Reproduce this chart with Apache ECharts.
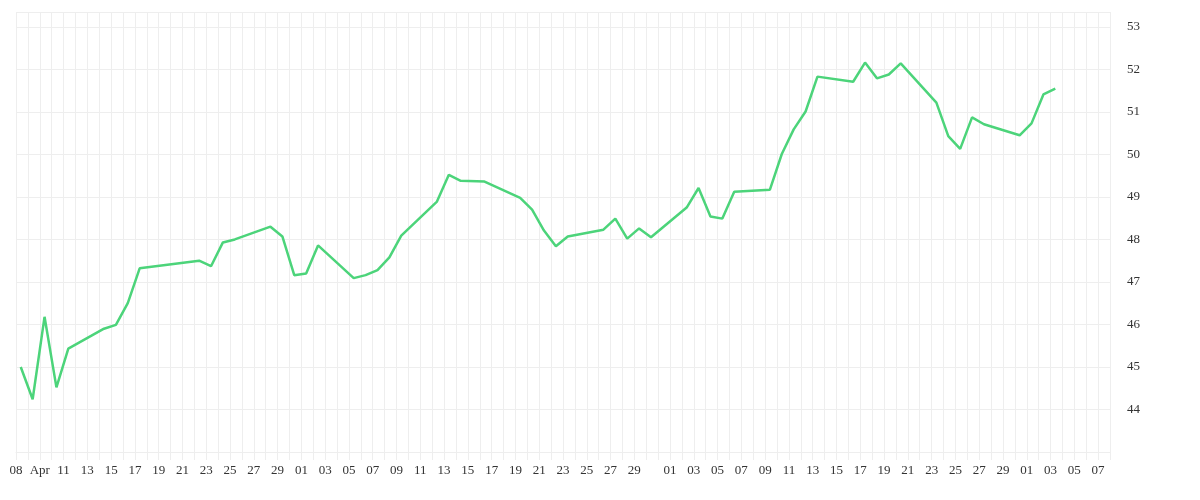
<!DOCTYPE html>
<html><head><meta charset="utf-8">
<script src="https://cdn.jsdelivr.net/npm/echarts@6/dist/echarts.min.js"></script>
<style>html,body{margin:0;padding:0;background:#fff}#c{width:1200px;height:500px}</style>
</head><body><div id="c"></div>
<script>
const dates = ["04-07","04-08","04-09","04-10","04-11","04-14","04-15","04-16","04-17","04-22","04-23","04-24","04-25","04-28","04-29","04-30","05-01","05-02","05-05","05-06","05-07","05-08","05-09","05-12","05-13","05-14","05-16","05-19","05-20","05-21","05-22","05-23","05-26","05-27","05-28","05-29","05-30","06-02","06-03","06-04","06-05","06-06","06-09","06-10","06-11","06-12","06-13","06-16","06-17","06-18","06-19","06-20","06-23","06-24","06-25","06-26","06-27","06-30","07-01","07-02","07-03"];
const values = [45.0,44.24,46.18,44.52,45.43,45.9,45.99,46.5,47.32,47.5,47.37,47.93,48.0,48.3,48.07,47.16,47.2,47.86,47.09,47.16,47.28,47.58,48.09,48.89,49.52,49.38,49.36,48.98,48.7,48.21,47.84,48.07,48.23,48.49,48.02,48.26,48.05,48.75,49.21,48.54,48.49,49.12,49.17,50.01,50.59,51.01,51.83,51.71,52.16,51.79,51.88,52.14,51.22,50.43,50.13,50.87,50.71,50.45,50.73,51.41,51.55];
const tickDates = ["04-07","04-09","04-11","04-13","04-15","04-17","04-19","04-21","04-23","04-25","04-27","04-29","05-01","05-03","05-05","05-07","05-09","05-11","05-13","05-15","05-17","05-19","05-21","05-23","05-25","05-27","05-29","06-01","06-03","06-05","06-07","06-09","06-11","06-13","06-15","06-17","06-19","06-21","06-23","06-25","06-27","06-29","07-01","07-03","07-05","07-07"];
const tickLabels = ["08","Apr","11","13","15","17","19","21","23","25","27","29","01","03","05","07","09","11","13","15","17","19","21","23","25","27","29","01","03","05","07","09","11","13","15","17","19","21","23","25","27","29","01","03","05","07"];
const yTicks = [44,45,46,47,48,49,50,51,52,53];
const timeOfDay = 0.4;
const base = Date.UTC(2024,3,7);
const dayOf = s => { const [m,d] = s.split('-').map(Number); return Math.round((Date.UTC(2024,m-1,d)-base)/86400000); };
const labelMap = {};
tickDates.forEach((s,i)=>{ labelMap[dayOf(s)] = tickLabels[i]; });
const data = dates.map((s,i)=>[dayOf(s)+timeOfDay, values[i]]);
const chart = echarts.init(document.getElementById('c'));
chart.setOption({
  animation:false,
  grid:{left:16,right:90,top:12,bottom:48,containLabel:false},
  xAxis:{type:'value',min:0,max:92,interval:1,
    axisLine:{show:true,lineStyle:{color:'#eee'}},
    axisTick:{show:true,length:8,lineStyle:{color:'#eee'}},
    splitLine:{show:true,lineStyle:{color:'#eee'}},
    axisLabel:{color:'#333',fontFamily:'Liberation Serif',fontSize:13,margin:12,showMinLabel:true,showMaxLabel:true,hideOverlap:false,
      formatter:v=>labelMap[v]||''}},
  yAxis:{type:'value',position:'right',min:43,max:53.35,interval:1,
    axisLine:{show:false},axisTick:{show:false},
    splitLine:{show:true,lineStyle:{color:'#eee'}},
    axisLabel:{color:'#333',fontFamily:'Liberation Serif',fontSize:13,margin:17,showMaxLabel:false,
      formatter:v=>yTicks.includes(v)?String(v):''}},
  series:[{type:'line',data:data,showSymbol:false,symbol:'none',lineStyle:{color:'#4cd47a',width:2.5},itemStyle:{color:'#4cd47a'}}]
});
</script></body></html>
